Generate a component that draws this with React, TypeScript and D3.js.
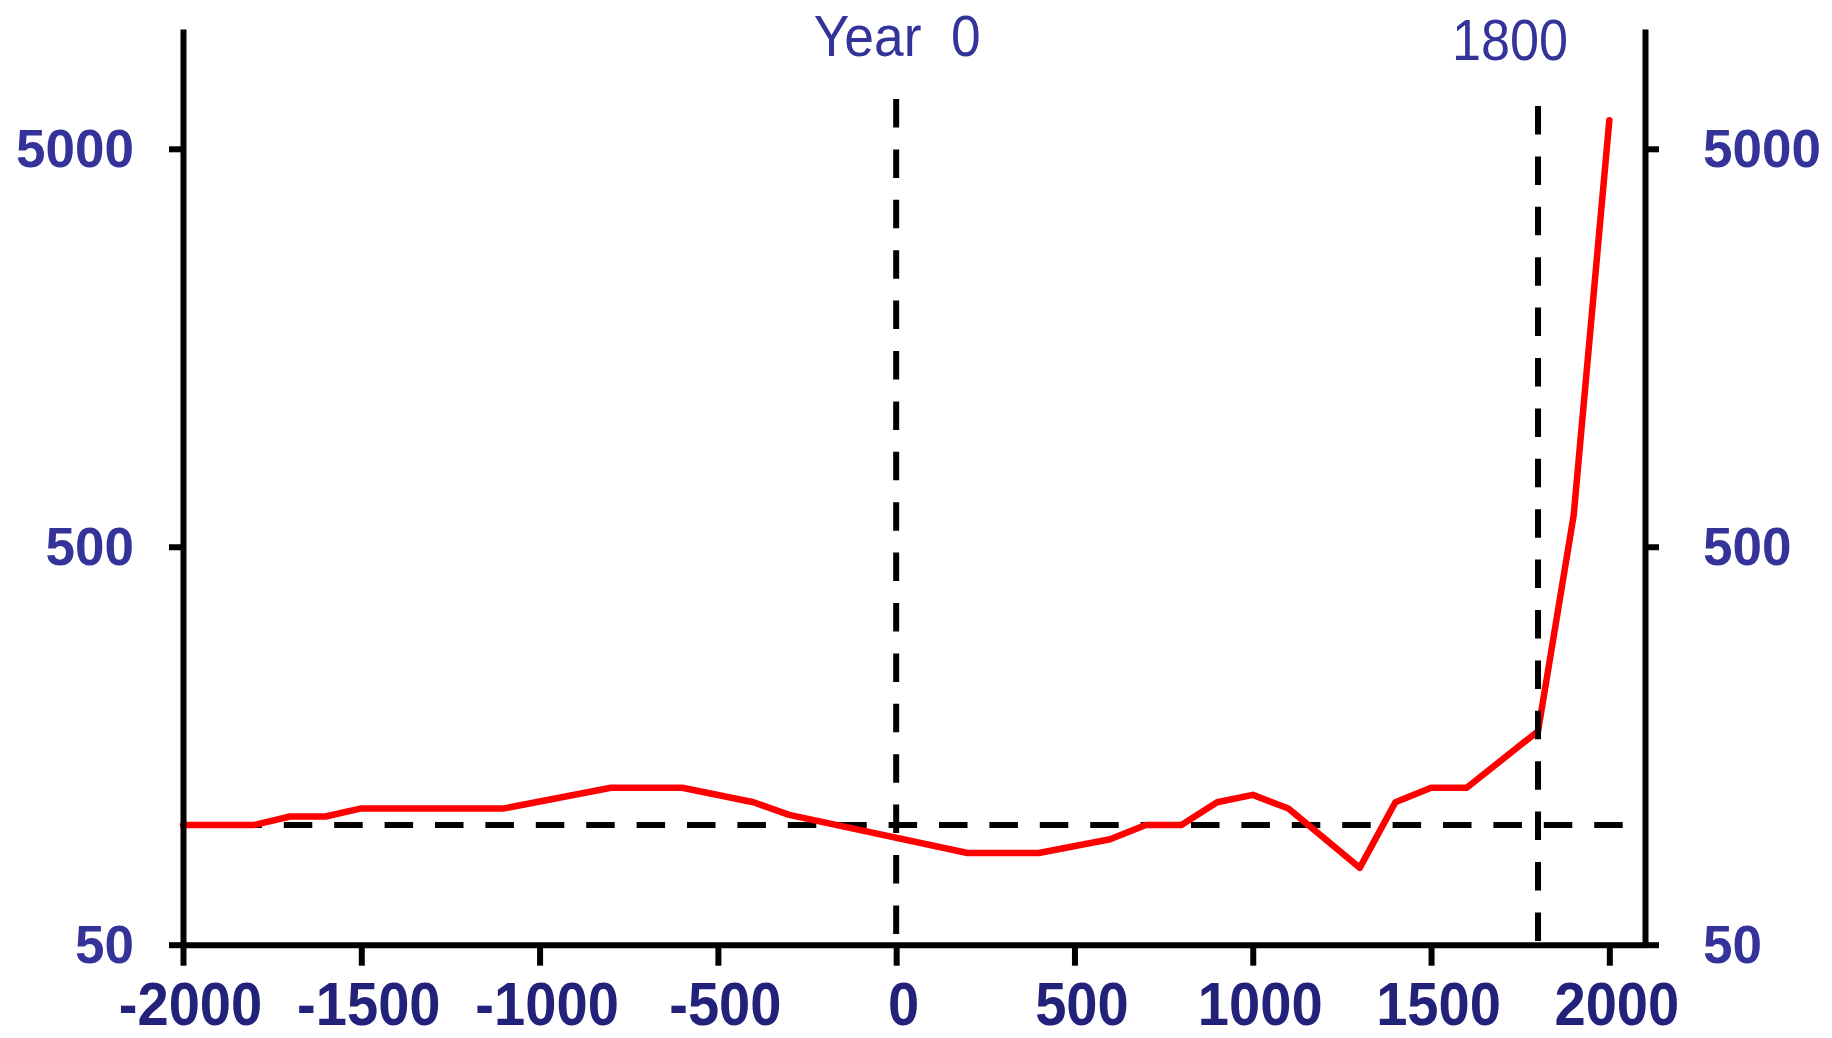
import { useEffect, useRef } from 'react';
import * as d3 from 'd3';

// income per person (log scale)
const years = [-2000, -1800, -1700, -1600, -1500, -1100, -800, -600, -400, -300, 200, 400, 600, 700, 800, 900, 1000, 1100, 1300, 1400, 1500, 1600, 1800, 1900, 2000];
const income = [100, 100, 105, 105, 110, 110, 124, 124, 114, 106, 85, 85, 92, 100, 100, 114, 119, 110, 78, 114, 124, 124, 172, 600, 5900];

const xTicks = [-2000, -1500, -1000, -500, 0, 500, 1000, 1500, 2000];
const yTicks = [50, 500, 5000];
const markerYears = [0, 1800];
const markerLabels = ['Year', '1800'];
const markerSuffix = [' 0', ''];
const baseline = 100;

const FONT = '"Liberation Sans", Arial, sans-serif';

export default function App() {
  const ref = useRef<SVGSVGElement>(null);

  useEffect(() => {
    const left = 183, right = 1645, top = 29, bottom = 944.7;

    const svg = d3.select(ref.current);
    svg.selectAll('*').remove();

    const x = d3.scaleLinear().domain([-2000, 2100]).range([left, right]);
    const y = d3.scaleLog().domain([50, 10000]).range([bottom, top]);

    const dash = '28.5 21.9';

    // baseline at 100
    svg.append('line')
      .attr('x1', left).attr('x2', right)
      .attr('y1', y(baseline)).attr('y2', y(baseline))
      .attr('stroke', '#000').attr('stroke-width', 6)
      .attr('stroke-dasharray', dash);

    const data = years.map((yr, i) => ({ year: yr, value: income[i] }));
    const line = d3.line<{ year: number; value: number }>()
      .x(d => x(d.year))
      .y(d => y(d.value));

    svg.append('path')
      .datum(data)
      .attr('d', line)
      .attr('fill', 'none')
      .attr('stroke', '#ff0000')
      .attr('stroke-width', 6.5)
      .attr('stroke-linejoin', 'round')
      .attr('stroke-linecap', 'round');

    // vertical markers
    const markerTops = [99, 106];
    markerYears.forEach((yr, i) => {
      svg.append('line')
        .attr('x1', x(yr)).attr('x2', x(yr))
        .attr('y1', markerTops[i]).attr('y2', bottom)
        .attr('stroke', '#000').attr('stroke-width', 6)
        .attr('stroke-dasharray', dash);
    });

    const labelPos = [{ dx: 1, y: 56, sx: 0.92 }, { dx: -28, y: 60, sx: 0.9 }];
    markerYears.forEach((yr, i) => {
      const t = svg.append('text')
        .attr('transform', `translate(${x(yr) + labelPos[i].dx},${labelPos[i].y}) scale(${labelPos[i].sx},1)`)
        .attr('text-anchor', 'middle')
        .attr('font-family', FONT)
        .attr('font-size', 58)
        .attr('fill', '#333399')
        .text(markerLabels[i]);
      if (markerSuffix[i]) t.append('tspan').attr('dx', 16).text(markerSuffix[i]);
    });

    // axes
    const styleAxis = (g: d3.Selection<SVGGElement, unknown, null, undefined>) => {
      g.attr('font-family', FONT).attr('font-weight', 'bold');
      g.select('.domain').attr('stroke', '#000').attr('stroke-width', 6);
      g.selectAll('.tick line').attr('stroke', '#000').attr('stroke-width', 6);
    };

    const gx = svg.append('g')
      .attr('transform', `translate(0,${bottom})`)
      .call(d3.axisBottom(x).tickValues(xTicks).tickSize(21).tickSizeOuter(0).tickFormat(d => String(d)));
    styleAxis(gx);
    gx.attr('font-size', 61);
    gx.selectAll('.tick text')
      .attr('y', 0).attr('dy', null)
      .attr('transform', 'translate(7,80) scale(0.92,1)')
      .attr('fill', '#22227a');

    const gl = svg.append('g')
      .attr('transform', `translate(${left},0)`)
      .call(d3.axisLeft(y).tickValues(yTicks).tickSize(14).tickSizeOuter(0).tickFormat(d => String(d)));
    styleAxis(gl);
    gl.attr('font-size', 53);
    gl.selectAll('.tick text')
      .attr('x', -49).attr('y', 18).attr('dy', null)
      .attr('fill', '#333399');

    const gr = svg.append('g')
      .attr('transform', `translate(${right},0)`)
      .call(d3.axisRight(y).tickValues(yTicks).tickSize(14).tickSizeOuter(0).tickFormat(d => String(d)));
    styleAxis(gr);
    gr.attr('font-size', 53);
    gr.selectAll('.tick text')
      .attr('x', 58).attr('y', 18).attr('dy', null)
      .attr('fill', '#333399');
  }, []);

  return (
    <svg
      ref={ref}
      width={1832}
      height={1038}
      style={{ position: 'absolute', left: 0, top: 0, background: '#fff' }}
    />
  );
}
